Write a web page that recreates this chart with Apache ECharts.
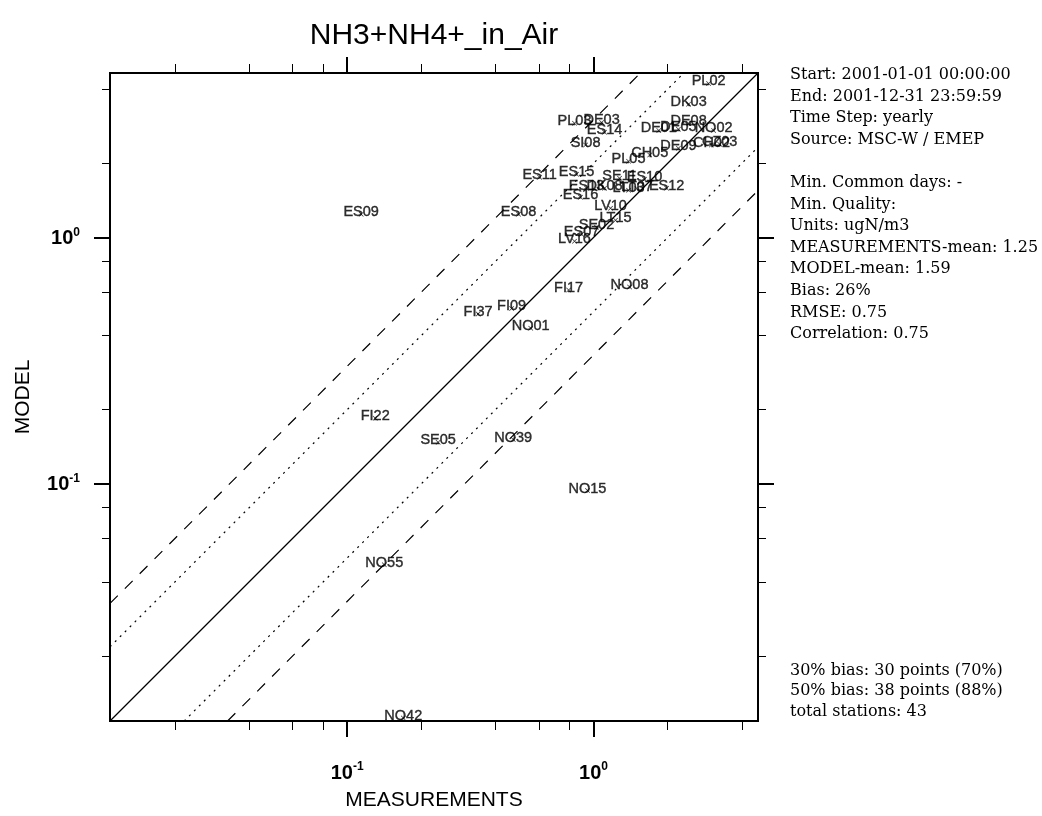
<!DOCTYPE html>
<html>
<head>
<meta charset="utf-8">
<script src="https://cdn.jsdelivr.net/npm/echarts@6/dist/echarts.min.js"></script>
<style>
html, body { margin: 0; padding: 0; background: #fff; }
#main { width: 1042px; height: 816px; }
</style>
</head>
<body>
<div id="main"></div>
<script>
// station data
var stations = ['PL02','DK03','PL03','DE03','ES14','SI08','DE01','DE05','DE08','NO02','DE09','CZ03','CH02','CH05','PL05',
    'ES11','ES15','SE11','ES10','ES13','DK08','LT03','LT07','ES12','ES16','LV10','LT15','SE02','ES07','LV16',
    'ES08','ES09','FI17','NO08','FI37','FI09','NO01','FI22','SE05','NO39','NO15','NO55','NO42'];
var measurements = [2.93,2.43,0.837,1.078,1.108,0.928,1.84,2.21,2.43,3.07,2.21,3.25,3.01,1.69,1.387,
    0.604,0.853,1.275,1.61,0.937,1.108,1.387,1.5,1.98,0.885,1.172,1.228,1.028,0.894,0.837,
    0.496,0.114,0.792,1.40,0.34,0.465,0.556,0.13,0.234,0.472,0.945,0.1415,0.169];
var model = [4.22,3.47,2.91,2.93,2.67,2.37,2.72,2.75,2.91,2.72,2.30,2.39,2.37,2.16,2.04,
    1.756,1.806,1.739,1.723,1.584,1.584,1.555,1.58,1.584,1.457,1.314,1.175,1.101,1.031,0.966,
    1.243,1.243,0.612,0.629,0.489,0.515,0.428,0.1846,0.1476,0.1512,0.0939,0.047,0.0112];

var axisMin = 0.0109, axisMax = 4.65;
var majorTicks = [0.1, 1];
var minorTicks = [0.02, 0.04, 0.06, 0.08, 0.2, 0.4, 0.6, 0.8, 2, 4];
// reference lines y = k * x : 1:1, factor 2, factor 3
var refFactors = [1, 2, 0.5, 3, 1 / 3];

var infoTop = ['Start: 2001-01-01 00:00:00', 'End: 2001-12-31 23:59:59', 'Time Step: yearly',
    'Source: MSC-W / EMEP', '', 'Min. Common days: -', 'Min. Quality:', 'Units: ugN/m3',
    'MEASUREMENTS-mean: 1.25', 'MODEL-mean: 1.59', 'Bias: 26%', 'RMSE: 0.75', 'Correlation: 0.75'];
var infoBottom = ['30% bias: 30 points (70%)', '50% bias: 38 points (88%)', 'total stations: 43'];

var sans = "'Liberation Sans', Arial, sans-serif";
var serif = "'DejaVu Serif', serif";

function makeAxis(pos, ticks, len, w, labels) {
    return {
        type: 'log',
        logBase: 10,
        position: pos,
        min: axisMin,
        max: axisMax,
        axisLine: { show: true, onZero: false, lineStyle: { color: '#000', width: 2 } },
        axisTick: { show: true, inside: false, customValues: ticks, length: len,
            lineStyle: { color: '#000', width: w } },
        axisLabel: {
            show: labels,
            customValues: ticks,
            margin: (pos == 'left' || pos == 'right') ? 30 : 40,
            formatter: function (v) {
                return '{b|10}{s|' + Math.round(Math.log10(v)) + '}';
            },
            rich: {
                b: { fontSize: 20, fontWeight: 'bold', fontFamily: sans, color: '#000', lineHeight: 22, verticalAlign: 'bottom' },
                s: { fontSize: 12, fontWeight: 'bold', fontFamily: sans, color: '#000', lineHeight: 22, verticalAlign: 'top' }
            }
        },
        splitLine: { show: false },
        minorTick: { show: false }
    };
}

var xMain = makeAxis('bottom', majorTicks, 16, 2, true);
xMain.name = 'MEASUREMENTS';
xMain.nameLocation = 'middle';
xMain.nameGap = 69;
xMain.nameTextStyle = { fontSize: 21, fontFamily: sans, color: '#000' };

var yMain = makeAxis('left', majorTicks, 16, 2, true);
yMain.name = 'MODEL';
yMain.nameLocation = 'middle';
yMain.nameGap = 76;
yMain.nameTextStyle = { fontSize: 21, fontFamily: sans, color: '#000' };

var points = [];
for (var i = 0; i < stations.length; i++) {
    points.push([measurements[i], model[i], stations[i]]);
}

var lineStyles = ['solid', [2, 5], [2, 5], [11, 10], [11, 10]];
var refSeries = refFactors.map(function (k, idx) {
    var x0 = Math.max(axisMin, axisMin / k);
    var x1 = Math.min(axisMax, axisMax / k);
    return {
        type: 'line',
        xAxisIndex: 0,
        yAxisIndex: 0,
        data: [[x0, k * x0], [x1, k * x1]],
        showSymbol: false,
        silent: true,
        lineStyle: { color: '#000', width: 1.2, type: lineStyles[idx] },
        z: 1
    };
});

var myChart = echarts.init(document.getElementById('main'));
option = {
    animation: false,
    backgroundColor: '#fff',
    grid: { left: 110, top: 73, width: 648, height: 649 },
    xAxis: [
        xMain,
        makeAxis('bottom', minorTicks, 9, 1, false),
        makeAxis('top', majorTicks, 16, 2, false),
        makeAxis('top', minorTicks, 9, 1, false)
    ],
    yAxis: [
        yMain,
        makeAxis('left', minorTicks, 8, 1, false),
        makeAxis('right', majorTicks, 16, 2, false),
        makeAxis('right', minorTicks, 8, 1, false)
    ],
    graphic: [
        { type: 'text', x: 434, y: 36, style: { text: 'NH3+NH4+_in_Air', font: '30px ' + sans,
            fill: '#000', textAlign: 'center', textVerticalAlign: 'middle' } },
        { type: 'text', x: 790, y: 64, style: { text: infoTop.join('\n'), font: '16px ' + serif,
            fill: '#000', lineHeight: 21.6 } },
        { type: 'text', x: 790, y: 660, style: { text: infoBottom.join('\n'), font: '16px ' + serif,
            fill: '#000', lineHeight: 20.8 } }
    ],
    series: refSeries.concat([{
        type: 'scatter',
        xAxisIndex: 0,
        yAxisIndex: 0,
        data: points,
        symbol: 'path://M0,1L1,0L5,4L9,0L10,1L6,5L10,9L9,10L5,6L1,10L0,9L4,5Z',
        symbolSize: 5,
        itemStyle: { color: '#000' },
        z: 3,
        label: {
            show: true,
            position: 'inside',
            offset: [0, -2],
            formatter: function (p) { return p.data[2]; },
            fontFamily: sans,
            fontSize: 14.5,
            color: '#000',
            textBorderColor: '#000',
            textBorderWidth: 0.4
        }
    }])
};
myChart.setOption(option);
</script>
</body>
</html>
